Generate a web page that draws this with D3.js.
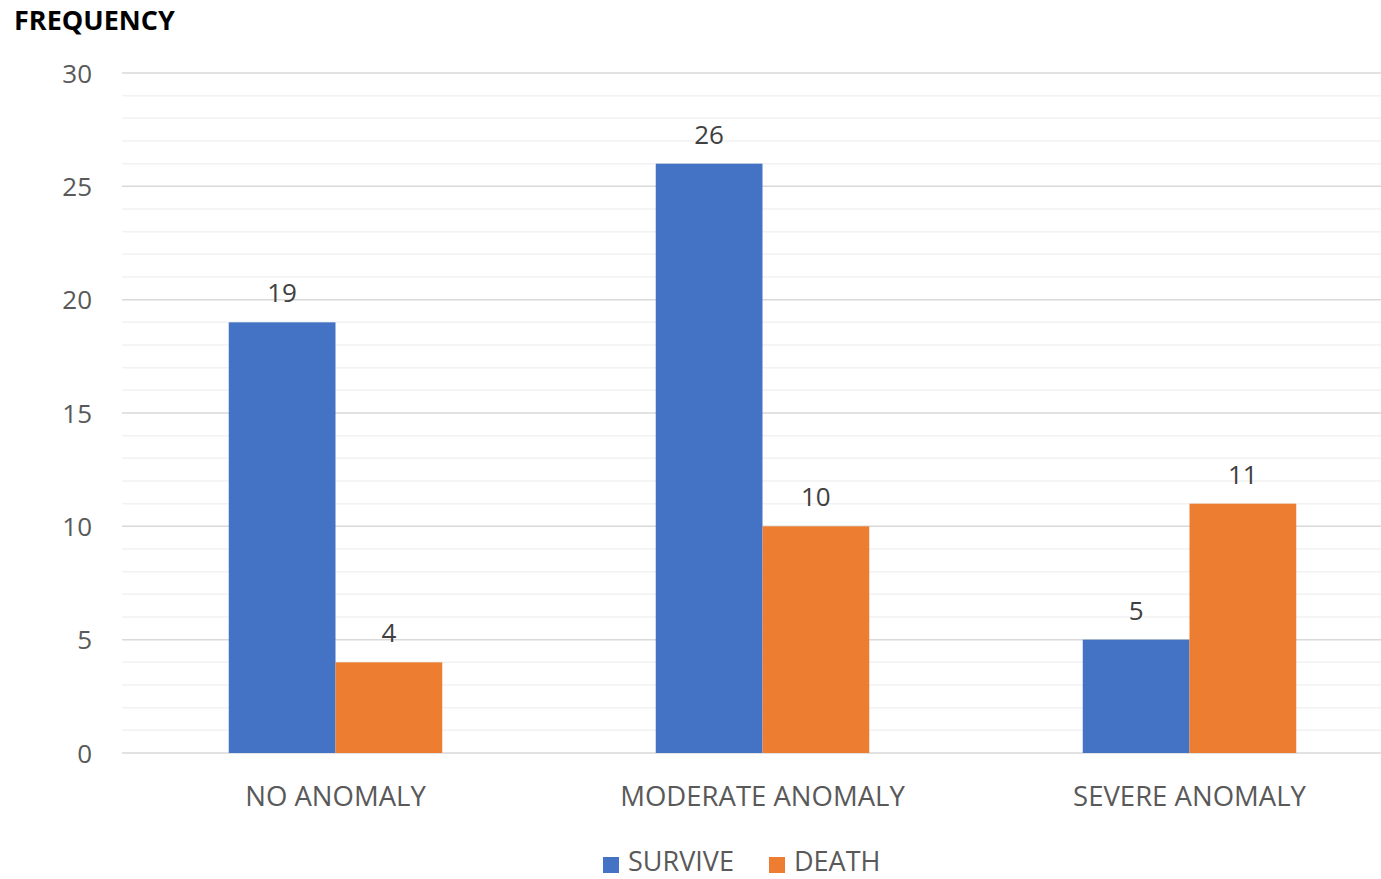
<!DOCTYPE html>
<html><head><meta charset="utf-8">
<script src="https://cdn.jsdelivr.net/npm/d3@7"></script>
<style>body{margin:0;background:#fff;} svg{display:block;}</style>
</head><body>
<script>
const categories = ["NO ANOMALY", "MODERATE ANOMALY", "SEVERE ANOMALY"];
const seriesNames = ["SURVIVE", "DEATH"];
const survive = [19, 26, 5];
const death = [4, 10, 11];
const yTicks = [0, 5, 10, 15, 20, 25, 30];
const colors = ["#4472C4", "#ED7D31"];
const values = [survive, death];

const W = 1381, H = 879;
const FONT = "'Open Sans', sans-serif";
const svg = d3.select("body").append("svg").attr("width", W).attr("height", H);

const x0 = d3.scaleBand().domain(categories).range([122, 1403]).paddingInner(0.5).paddingOuter(0.25);
const x1 = d3.scaleBand().domain(seriesNames).range([0, x0.bandwidth()]);
const y = d3.scaleLinear().domain([0, 30]).range([753, 73]);

// minor gridlines
svg.append("g").selectAll("line").data(d3.range(0, 31, 1).filter(v => v % 5 !== 0)).join("line")
  .attr("x1", 122).attr("x2", W).attr("y1", d => y(d)).attr("y2", d => y(d))
  .attr("stroke", "#f2f2f2").attr("stroke-width", 1.5);
// major gridlines
svg.append("g").selectAll("line").data(yTicks).join("line")
  .attr("x1", 122).attr("x2", W).attr("y1", d => y(d)).attr("y2", d => y(d))
  .attr("stroke", "#d9d9d9").attr("stroke-width", 1.5);

// y axis labels
const yAxis = d3.axisLeft(y).tickValues(yTicks).tickSize(0).tickPadding(0);
const ya = svg.append("g").attr("transform", "translate(92,0)").call(yAxis);
ya.select(".domain").remove();
ya.selectAll("text").attr("font-family", FONT).attr("font-size", 26).attr("fill", "#595959").attr("dy", "0.35em");

// bars
const groups = svg.append("g").selectAll("g").data(categories).join("g")
  .attr("transform", d => `translate(${x0(d)},0)`);
groups.selectAll("rect").data((d, i) => seriesNames.map((s, j) => ({ s, v: values[j][i], j }))).join("rect")
  .attr("x", d => x1(d.s)).attr("width", x1.bandwidth())
  .attr("y", d => y(d.v)).attr("height", d => y(0) - y(d.v))
  .attr("fill", d => colors[d.j]);
groups.selectAll("text").data((d, i) => seriesNames.map((s, j) => ({ s, v: values[j][i], j }))).join("text")
  .attr("x", d => x1(d.s) + x1.bandwidth() / 2).attr("y", d => y(d.v) - 20)
  .attr("text-anchor", "middle").attr("font-family", FONT).attr("font-size", 26).attr("fill", "#404040")
  .text(d => d.v);

// x axis
const xAxis = d3.axisBottom(x0).tickSize(0).tickPadding(0);
const xa = svg.append("g").attr("transform", "translate(0,806)").call(xAxis);
xa.select(".domain").remove();
xa.selectAll("text").attr("font-family", FONT).attr("font-size", 27.5).attr("fill", "#595959").attr("dy", 0).attr("y", 0);

// title
svg.append("text").attr("x", 14).attr("y", 30).attr("font-family", FONT).attr("font-weight", "bold")
  .attr("font-size", 27).attr("fill", "#000").text("FREQUENCY");

// legend
const legendX = [603, 769];
const lg = svg.append("g").selectAll("g").data(seriesNames).join("g")
  .attr("transform", (d, i) => `translate(${legendX[i]},0)`);
lg.append("rect").attr("x", 0).attr("y", 857).attr("width", 16).attr("height", 16).attr("fill", (d, i) => colors[i]);
lg.append("text").attr("x", 25).attr("y", 871).attr("font-family", FONT).attr("font-size", 27).attr("fill", "#595959").text(d => d);
</script>
</body></html>
